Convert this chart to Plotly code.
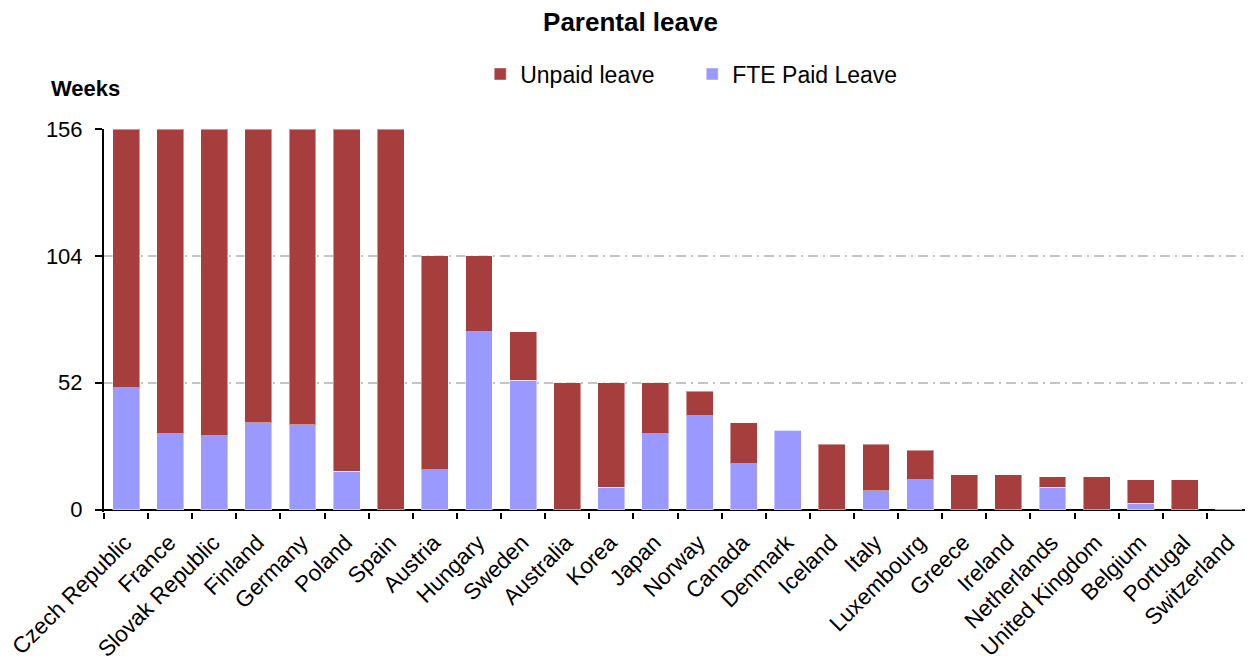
import plotly.graph_objects as go

# Parental leave by country, in weeks
countries = ["Czech Republic", "France", "Slovak Republic", "Finland", "Germany",
             "Poland", "Spain", "Austria", "Hungary", "Sweden", "Australia",
             "Korea", "Japan", "Norway", "Canada", "Denmark", "Iceland", "Italy",
             "Luxembourg", "Greece", "Ireland", "Netherlands", "United Kingdom",
             "Belgium", "Portugal", "Switzerland"]
paid = [50, 31, 30.3, 35.5, 34.7, 15.7, 0, 16.4, 72.8, 53.1, 0,
        9.1, 31.1, 38.5, 18.7, 32.5, 0, 7.8,
        12.2, 0, 0, 9.1, 0,
        2.5, 0, 0]
unpaid = [106, 125, 125.7, 120.5, 121.3, 140.3, 156, 87.6, 31.2, 19.7, 52,
          42.9, 20.9, 10.1, 16.8, 0, 26.8, 19,
          12.2, 14.2, 14.2, 4.3, 13.4,
          9.7, 12.2, 0]
y_ticks = [0, 52, 104, 156]

FONT = "Liberation Sans, Arial, sans-serif"
RED = "#A63E3E"
BLUE = "#9999FF"

# page body has an 8px margin, so the figure is a bit smaller than the window
W, H = 1245, 656

fig = go.Figure()
fig.add_trace(go.Bar(x=countries, y=paid, name="FTE Paid Leave",
                     marker=dict(color=BLUE, line=dict(color="rgba(255,255,255,0.45)", width=1))))
fig.add_trace(go.Bar(x=countries, y=unpaid, name="Unpaid leave",
                     marker=dict(color=RED, line=dict(color="rgba(255,255,255,0.45)", width=1))))

fig.update_layout(
    width=W, height=H,
    barmode="stack", bargap=0.39,
    plot_bgcolor="white", paper_bgcolor="white",
    font=dict(family=FONT, size=22, color="black"),
    margin=dict(l=96, r=2, t=121, b=152, autoexpand=False),
    title=dict(text="<b>Parental leave</b>", x=0.5, xanchor="center",
               y=1 - 14 / H, yanchor="middle", yref="container",
               font=dict(size=26)),
    showlegend=True,
    legend=dict(orientation="h", traceorder="reversed",
                x=0.328, xanchor="left", y=1.1435, yanchor="middle",
                font=dict(size=23), entrywidth=167, itemwidth=30,
                bgcolor="rgba(0,0,0,0)"),
    annotations=[dict(text="<b>Weeks</b>", xref="paper", yref="paper",
                      x=-0.048, xanchor="left", y=1.107, yanchor="middle",
                      showarrow=False, font=dict(size=22))],
)

fig.update_xaxes(automargin=False, showline=False, ticks="outside",
                 tickson="boundaries", ticklen=6, tickwidth=2, tickcolor="black",
                 tickangle=-45, ticklabelstandoff=12, ticklabelshift=-1,
                 tickfont=dict(size=22.5), showgrid=False)
fig.update_yaxes(automargin=False, range=[-1, 156], tickvals=y_ticks,
                 ticks="outside", ticklen=7, tickwidth=2, tickcolor="black",
                 ticklabelstandoff=8, showline=True, linecolor="black", linewidth=2,
                 showgrid=True, gridcolor="#C4C4C4", gridwidth=2,
                 griddash="10px,5px,2px,5px", zeroline=True,
                 zerolinecolor="black", zerolinewidth=2)

fig.write_html("out.html")
